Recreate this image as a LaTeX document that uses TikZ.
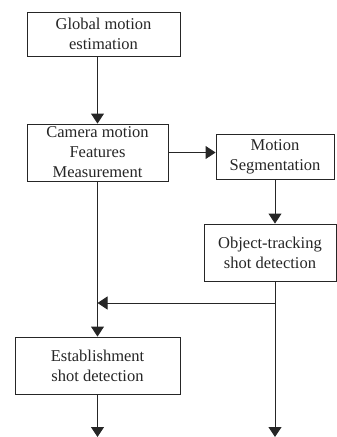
\documentclass[tikz,border=0pt]{standalone}
\usepackage{fontspec}
\setmainfont{Liberation Serif}
\usetikzlibrary{arrows.meta}
\tikzset{
    stagebox/.style={draw=black!85, line width=0.9pt, align=center, inner sep=0pt,
        font=\fontsize{16.5}{20}\selectfont, text=black!85},
    flow/.style={draw=black!85, line width=0.9pt, -{Triangle[width=13pt,length=10pt]}}
}
\begin{document}
\begin{tikzpicture}[x=1pt, y=-1pt]
    \useasboundingbox (0,0) rectangle (337,437);

    \node[stagebox, minimum width=153pt, minimum height=44pt] (glob) at (103.5,34) {Global motion\\estimation};
    \node[stagebox, minimum width=141pt, minimum height=57pt] (cam) at (97.5,152.5) {Camera motion\\Features\\Measurement};
    \node[stagebox, minimum width=118pt, minimum height=45pt] (seg) at (275,156.5) {Motion\\Segmentation};
    \node[stagebox, minimum width=132pt, minimum height=57pt] (obj) at (270,252.5) {Object-tracking\\shot detection};
    \node[stagebox, minimum width=165pt, minimum height=57pt] (est) at (97.5,365.5) {Establishment\\shot detection};

    \coordinate (branch) at (275,303);
    \coordinate (join) at (cam.south |- branch);
    \coordinate (outest) at (97.5,437);
    \coordinate (outobj) at (275,437);

    \draw[flow] (glob.south -| cam.north) -- (cam.north);
    \draw[flow] (cam.east) -- (cam.east -| seg.west);
    \draw[flow] (seg.south) -- (seg.south |- obj.north);
    \draw[flow] (cam.south) -- (est.north);
    \draw[flow] (branch) -- (join);
    \draw[flow] (seg.south |- obj.south) -- (outobj);
    \draw[flow] (est.south) -- (outest);
\end{tikzpicture}
\end{document}
